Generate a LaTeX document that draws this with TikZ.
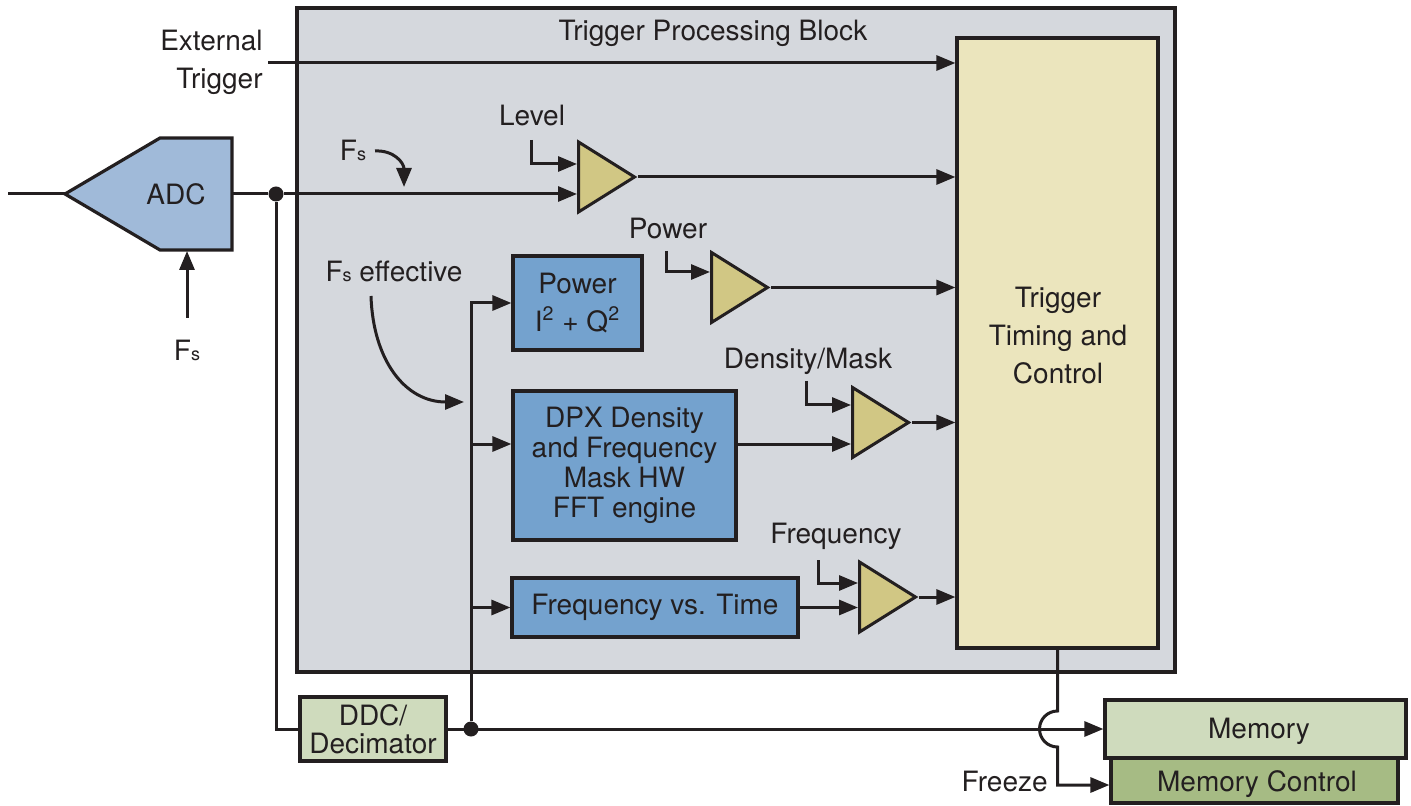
\documentclass[tikz,border=0pt]{standalone}
\usepackage{fontspec}
\setmainfont{TeX Gyre Heros}
\usepackage{xcolor}
\usepackage{tikz}
\usetikzlibrary{shapes.geometric, arrows.meta, positioning, calc}

\definecolor{inkc}{HTML}{231F20}
\definecolor{panelc}{HTML}{D5D8DD}
\definecolor{trigc}{HTML}{EBE5BD}
\definecolor{adcc}{HTML}{A0BAD9}
\definecolor{procc}{HTML}{74A2CE}
\definecolor{cmpc}{HTML}{D1C784}
\definecolor{memc}{HTML}{CFDBBD}
\definecolor{mctlc}{HTML}{A6BB84}

\newcommand{\Fsub}{F{\fontsize{9}{9}\selectfont s}}

\tikzset{
  %% Outlined block
  blk/.style={
    rectangle, draw=inkc, fill=#1,
    text=inkc, align=center, inner sep=0pt,
    font=\fontsize{14}{19}\selectfont,
    line width=1.6pt
  },
  blk/.default=procc,
  %% Comparator triangle
  cmp/.style={
    isosceles triangle, isosceles triangle stretches,
    draw=inkc, fill=cmpc, inner sep=0pt,
    minimum width=35pt, minimum height=28pt,
    line width=1.5pt, anchor=west
  },
  %% Plain text label
  lbl/.style={text=inkc, inner sep=0pt, align=center,
              font=\fontsize{14}{19}\selectfont},
  %% Arrow and wire
  arr/.style={-{Triangle[length=9.5pt,width=7.5pt]},
              draw=inkc, line width=1.5pt},
  wire/.style={draw=inkc, line width=1.5pt},
  %% Junction dot
  jdot/.style={circle, fill=inkc, inner sep=0pt, minimum size=7.5pt},
}

\begin{document}
\begin{tikzpicture}[x=0.5pt, y=-0.5pt]

  \useasboundingbox (0,0) rectangle (1411,806);

  % panel and timing block
  \node[blk=panelc, minimum width=439pt, minimum height=332pt]
       (tpb) at (736,340) {};
  \node[lbl] (tpbtitle) at (713,33) {Trigger Processing Block};
  \node[blk=trigc, minimum width=100.5pt, minimum height=305pt]
       (trig) at (1057.5,343) {};
  \node[lbl] (triglbl) at (1058,336) {Trigger\\Timing and\\Control};

  % ADC
  \coordinate (adctip) at (65,194);
  \coordinate (adcout) at (232,194);
  \coordinate (adcclk) at (187,251);
  \coordinate (rfin) at (8,194);
  \draw[fill=adcc, draw=inkc, line width=1.6pt]
       (adctip) -- (160,138) -- (232,138) -- (232,250) -- (160,250) -- cycle;
  \node[lbl] (adc) at (176,194) {ADC};
  \draw[wire] (rfin) -- (adctip);
  \node[lbl] (fsadc) at (187,350) {\Fsub};
  \coordinate (fsadcs) at (187,318);
  \draw[arr] (fsadcs) -- (adcclk);

  % external trigger
  \node[lbl, align=right, anchor=east] (ext) at (263,62)
       {External\\Trigger};
  \coordinate (exts) at (268,63);
  \draw[arr] (exts) -- (exts -| trig.west);

  % processing blocks
  \node[blk, minimum width=64.5pt, minimum height=47pt]
       (pwr) at (577.5,303) {Power\\I\textsuperscript{2} + Q\textsuperscript{2}};
  \node[blk, minimum width=111.5pt, minimum height=74.5pt,
        font=\fontsize{14}{15}\selectfont]
       (dpx) at (624.5,465.5)
       {DPX Density\\and Frequency\\Mask HW\\FFT engine};
  \node[blk, minimum width=143pt, minimum height=29.5pt]
       (fvt) at (655,607.5) {Frequency vs. Time};

  % comparators
  \node[cmp] (lvl) at (577,177) {};
  \node[cmp] (pcmp) at (710,287.5) {};
  \node[cmp] (dcmp) at (851,422.5) {};
  \node[cmp] (fcmp) at (858,597) {};

  \node[lbl] (lvllbl) at (532,116) {Level};
  \node[lbl] (pwrlbl) at (668,229) {Power};
  \node[lbl] (dnslbl) at (808,361) {Density/Mask};
  \node[lbl] (frqlbl) at (836,536) {Frequency};

  \coordinate (lvlin) at (531,140);
  \coordinate (pwrin) at (666,251);
  \coordinate (dnsin) at (806,381);
  \coordinate (frqin) at (818,560);
  \draw[arr] (lvlin) |- ([yshift=6.5pt]lvl.west);
  \draw[arr] (pwrin) |- ([yshift=7.75pt]pcmp.west);
  \draw[arr] (dnsin) |- ([yshift=8.75pt]dcmp.west);
  \draw[arr] (frqin) |- ([yshift=7pt]fcmp.west);

  % comparator outputs
  \draw[arr] (lvl.apex) -- (lvl.apex -| trig.west);
  \draw[arr] (pcmp.apex) -- (pcmp.apex -| trig.west);
  \draw[arr] (dcmp.apex) -- (dcmp.apex -| trig.west);
  \draw[arr] (fcmp.apex) -- (fcmp.apex -| trig.west);

  % ADC output to level trigger
  \node[jdot] (j1) at (276,194) {};
  \draw[wire] (adcout) -- (j1);
  \draw[arr] (j1) -- (j1 -| lvl.west);
  \node[lbl] (fsmid) at (353,150) {\Fsub};
  \coordinate (fsmida) at (375,151);
  \coordinate (fsmidb) at (404,187);
  \draw[arr] (fsmida) .. controls (394,150) and (404,163) .. (fsmidb);

  % DDC and memory
  \node[blk=memc, minimum width=73pt, minimum height=32pt,
        font=\fontsize{14}{14}\selectfont]
       (ddc) at (373,729) {DDC/\\Decimator};
  \node[blk=mctlc, minimum width=143.5pt, minimum height=22.5pt]
       (mctl) at (1254.5,780.5) {};
  \node[lbl] (mctllbl) at (1257,784) {Memory Control};
  \node[blk=memc, minimum width=150.5pt, minimum height=29pt]
       (mem) at (1255.5,729) {};
  \node[lbl] (memlbl) at (1259,731) {Memory};
  \draw[wire] (j1) |- (ddc.west);
  \node[jdot] (j2) at (471,729) {};
  \draw[arr] (ddc.east) -- (mem.west);

  % decimated bus
  \coordinate (dpxin) at ($(dpx.west)+(0,10.75pt)$);
  \draw[arr] (j2) |- (pwr.west);
  \draw[arr] (j2 |- dpxin) -- (dpxin);
  \draw[arr] (j2 |- fvt.west) -- (fvt.west);
  \draw[arr] (dpxin -| dpx.east) -- (dpxin -| dcmp.west);
  \draw[arr] (fvt.east) -- (fvt.east -| fcmp.west);
  \node[lbl] (fseff) at (394,271) {\Fsub{} effective};
  \coordinate (fseffa) at (371,296);
  \coordinate (fseffb) at (464,402);
  \draw[arr] (fseffa) .. controls (373,360) and (405,402) .. (fseffb);

  % freeze
  \coordinate (hop) at (trig.south |- 0,711);
  \node[lbl, anchor=east] (frz) at (1048,781) {Freeze};
  \draw[arr] (trig.south) -- (hop)
       arc[start angle=90, end angle=270, radius=9pt] |- (0,785 -| mctl.west);

\end{tikzpicture}
\end{document}
